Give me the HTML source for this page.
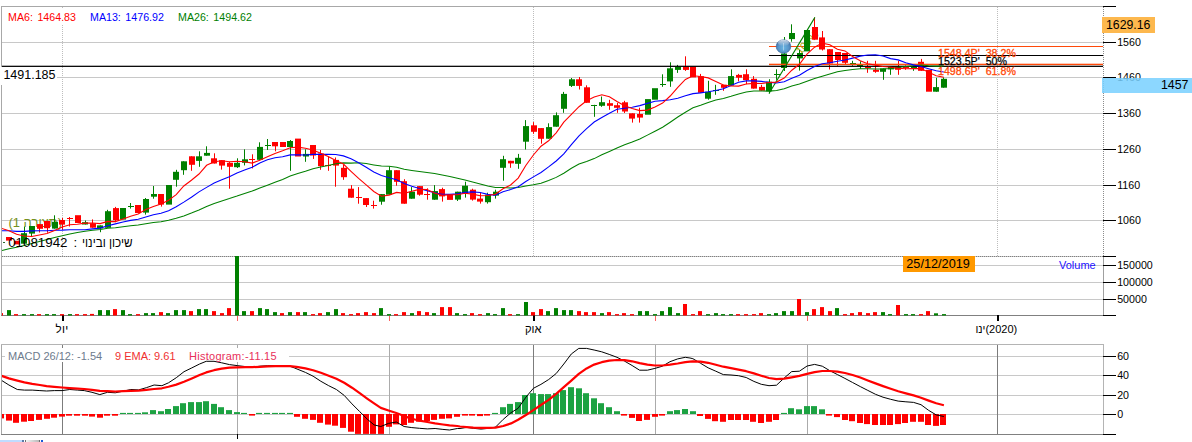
<!DOCTYPE html>
<html><head><meta charset="utf-8"><title>chart</title>
<style>
html,body{margin:0;padding:0;background:#fff;}
body{width:1192px;height:442px;position:relative;overflow:hidden;font-family:"Liberation Sans",sans-serif;}
.t{position:absolute;white-space:nowrap;line-height:1;}
.ax{font-size:10.67px;color:#000;left:1117.2px;}
</style></head><body>
<svg width="1192" height="442" viewBox="0 0 1192 442" style="position:absolute;left:0;top:0">
<defs><clipPath id="cm"><rect x="2" y="7" width="1101" height="249"/></clipPath><clipPath id="cv"><rect x="2" y="256" width="1101" height="60"/></clipPath><clipPath id="cd"><rect x="2" y="345" width="1101" height="89"/></clipPath><radialGradient id="ball" cx="0.5" cy="0.6" r="0.55"><stop offset="0" stop-color="#6bb6e2"/><stop offset="0.6" stop-color="#5a98cb"/><stop offset="1" stop-color="#4675aa"/></radialGradient><linearGradient id="gloss" x1="0" y1="0" x2="0" y2="1"><stop offset="0" stop-color="#ffffff" stop-opacity="0.75"/><stop offset="1" stop-color="#ffffff" stop-opacity="0"/></linearGradient></defs>
<g shape-rendering="crispEdges">
<rect x="2" y="42" width="1101" height="1" fill="#c8c8c8"/>
<rect x="2" y="77" width="1101" height="1" fill="#c8c8c8"/>
<rect x="2" y="113" width="1101" height="1" fill="#c8c8c8"/>
<rect x="2" y="149" width="1101" height="1" fill="#c8c8c8"/>
<rect x="2" y="185" width="1101" height="1" fill="#c8c8c8"/>
<rect x="2" y="220" width="1101" height="1" fill="#c8c8c8"/>
<rect x="1" y="6" width="1103" height="1" fill="#a8a8a8"/>
<rect x="1" y="6" width="1" height="310" fill="#a8a8a8"/>
<rect x="1" y="344" width="1" height="91" fill="#a8a8a8"/>
<line x1="62.5" y1="7" x2="62.5" y2="256" stroke="#bdbdbd" stroke-width="1" stroke-dasharray="1,1"/>
<line x1="533.5" y1="7" x2="533.5" y2="256" stroke="#bdbdbd" stroke-width="1" stroke-dasharray="1,1"/>
<line x1="997.5" y1="7" x2="997.5" y2="256" stroke="#bdbdbd" stroke-width="1" stroke-dasharray="1,1"/>
<line x1="1103.5" y1="7" x2="1103.5" y2="256" stroke="#8c8c8c" stroke-width="1" stroke-dasharray="1,1"/>
<rect x="1103" y="256" width="1" height="60" fill="#a0a0a0"/>
<rect x="6" y="9" width="250" height="15" fill="#fff"/>
<rect x="2" y="265" width="1101" height="1" fill="#c8c8c8"/>
<rect x="2" y="282" width="1101" height="1" fill="#c8c8c8"/>
<rect x="2" y="299" width="1101" height="1" fill="#c8c8c8"/>
<rect x="2" y="256" width="1101" height="1" fill="#c8c8c8"/>
<line x1="2" y1="256.5" x2="1103" y2="256.5" stroke="#808080" stroke-width="1" stroke-dasharray="1,1"/>
<rect x="1" y="315" width="1103" height="1" fill="#808080"/>
<rect x="1" y="344" width="1103" height="1" fill="#b4b4b4"/>
<rect x="1" y="434" width="1103" height="1" fill="#808080"/>
<rect x="1103" y="344" width="1" height="91" fill="#b4b4b4"/>
<rect x="2" y="356" width="1101" height="1" fill="#c8c8c8"/>
<rect x="2" y="375" width="1101" height="1" fill="#c8c8c8"/>
<rect x="2" y="395" width="1101" height="1" fill="#c8c8c8"/>
<rect x="2" y="414" width="1101" height="1" fill="#c8c8c8"/>
<rect x="62" y="345" width="1" height="89" fill="#7c7c7c"/>
<rect x="237" y="345" width="1" height="89" fill="#ababab"/>
<rect x="389" y="345" width="1" height="89" fill="#ababab"/>
<rect x="533" y="345" width="1" height="89" fill="#7c7c7c"/>
<rect x="655" y="345" width="1" height="89" fill="#ababab"/>
<rect x="807" y="345" width="1" height="89" fill="#ababab"/>
<rect x="997" y="345" width="1" height="89" fill="#7c7c7c"/>
<rect x="5" y="348" width="284" height="14" fill="#fff"/>
<rect x="1103" y="6" width="13" height="1" fill="#000"/>
<rect x="1103" y="42" width="13" height="1" fill="#000"/>
<rect x="1103" y="77" width="13" height="1" fill="#000"/>
<rect x="1103" y="113" width="13" height="1" fill="#000"/>
<rect x="1103" y="149" width="13" height="1" fill="#000"/>
<rect x="1103" y="185" width="13" height="1" fill="#000"/>
<rect x="1103" y="220" width="13" height="1" fill="#000"/>
<rect x="1103" y="256" width="13" height="1" fill="#000"/>
<rect x="1103" y="265" width="13" height="1" fill="#000"/>
<rect x="1103" y="282" width="13" height="1" fill="#000"/>
<rect x="1103" y="299" width="13" height="1" fill="#000"/>
<rect x="1103" y="315" width="13" height="1" fill="#000"/>
<rect x="1103" y="356" width="13" height="1" fill="#000"/>
<rect x="1103" y="375" width="13" height="1" fill="#000"/>
<rect x="1103" y="395" width="13" height="1" fill="#000"/>
<rect x="1103" y="414" width="13" height="1" fill="#000"/>
<rect x="1103" y="434" width="13" height="1" fill="#000"/>
<rect x="61.5" y="315" width="2" height="6" fill="#000"/>
<rect x="532.5" y="315" width="2" height="6" fill="#000"/>
<rect x="996.5" y="315" width="2" height="6" fill="#000"/>
<rect x="237" y="316" width="1" height="5" fill="#ff6060"/>
<rect x="389" y="316" width="1" height="5" fill="#ff6060"/>
<rect x="655" y="316" width="1" height="5" fill="#ff6060"/>
<rect x="807" y="316" width="1" height="5" fill="#ff6060"/>
<rect x="236.6" y="434" width="1.4" height="5" fill="#000"/>
</g>
<g clip-path="url(#cv)">
<rect x="-1" y="313.1" width="4" height="2.4" fill="#FF0000"/>
<rect x="7" y="310.1" width="4" height="5.4" fill="#008000"/>
<rect x="14" y="314.1" width="4" height="1.4" fill="#FF0000"/>
<rect x="22" y="314.1" width="4" height="1.4" fill="#008000"/>
<rect x="30" y="314.1" width="4" height="1.4" fill="#008000"/>
<rect x="37" y="314.1" width="4" height="1.4" fill="#FF0000"/>
<rect x="45" y="314.1" width="4" height="1.4" fill="#008000"/>
<rect x="52" y="314.1" width="4" height="1.4" fill="#008000"/>
<rect x="60" y="314.1" width="4" height="1.4" fill="#FF0000"/>
<rect x="68" y="314.1" width="4" height="1.4" fill="#008000"/>
<rect x="75" y="314.1" width="4" height="1.4" fill="#FF0000"/>
<rect x="83" y="314.1" width="4" height="1.4" fill="#FF0000"/>
<rect x="90" y="313.9" width="4" height="1.6" fill="#FF0000"/>
<rect x="98" y="310.1" width="4" height="5.4" fill="#008000"/>
<rect x="106" y="310.1" width="4" height="5.4" fill="#008000"/>
<rect x="113" y="309.1" width="4" height="6.4" fill="#FF0000"/>
<rect x="121" y="310.1" width="4" height="5.4" fill="#008000"/>
<rect x="128" y="314.1" width="4" height="1.4" fill="#008000"/>
<rect x="136" y="314.1" width="4" height="1.4" fill="#FF0000"/>
<rect x="144" y="313.1" width="4" height="2.4" fill="#008000"/>
<rect x="151" y="313.1" width="4" height="2.4" fill="#008000"/>
<rect x="159" y="312.1" width="4" height="3.4" fill="#FF0000"/>
<rect x="166" y="313.1" width="4" height="2.4" fill="#008000"/>
<rect x="174" y="310.1" width="4" height="5.4" fill="#008000"/>
<rect x="182" y="310.1" width="4" height="5.4" fill="#008000"/>
<rect x="189" y="311.1" width="4" height="4.4" fill="#FF0000"/>
<rect x="197" y="309.1" width="4" height="6.4" fill="#008000"/>
<rect x="204" y="309.1" width="4" height="6.4" fill="#008000"/>
<rect x="212" y="311.1" width="4" height="4.4" fill="#FF0000"/>
<rect x="220" y="313.1" width="4" height="2.4" fill="#FF0000"/>
<rect x="227" y="308.1" width="4" height="7.4" fill="#FF0000"/>
<rect x="235" y="256.0" width="4" height="59.5" fill="#008000"/>
<rect x="242" y="311.1" width="4" height="4.4" fill="#008000"/>
<rect x="250" y="311.1" width="4" height="4.4" fill="#FF0000"/>
<rect x="258" y="308.1" width="4" height="7.4" fill="#008000"/>
<rect x="265" y="309.1" width="4" height="6.4" fill="#008000"/>
<rect x="273" y="312.1" width="4" height="3.4" fill="#008000"/>
<rect x="280" y="313.1" width="4" height="2.4" fill="#FF0000"/>
<rect x="288" y="312.1" width="4" height="3.4" fill="#008000"/>
<rect x="296" y="312.1" width="4" height="3.4" fill="#FF0000"/>
<rect x="303" y="312.1" width="4" height="3.4" fill="#008000"/>
<rect x="311" y="314.1" width="4" height="1.4" fill="#FF0000"/>
<rect x="318" y="313.1" width="4" height="2.4" fill="#FF0000"/>
<rect x="326" y="312.1" width="4" height="3.4" fill="#008000"/>
<rect x="334" y="309.1" width="4" height="6.4" fill="#008000"/>
<rect x="341" y="313.1" width="4" height="2.4" fill="#FF0000"/>
<rect x="349" y="314.1" width="4" height="1.4" fill="#FF0000"/>
<rect x="356" y="313.1" width="4" height="2.4" fill="#FF0000"/>
<rect x="364" y="312.1" width="4" height="3.4" fill="#FF0000"/>
<rect x="372" y="313.1" width="4" height="2.4" fill="#FF0000"/>
<rect x="379" y="308.1" width="4" height="7.4" fill="#008000"/>
<rect x="387" y="314.1" width="4" height="1.4" fill="#008000"/>
<rect x="394" y="314.1" width="4" height="1.4" fill="#FF0000"/>
<rect x="402" y="312.1" width="4" height="3.4" fill="#FF0000"/>
<rect x="410" y="313.1" width="4" height="2.4" fill="#008000"/>
<rect x="417" y="311.1" width="4" height="4.4" fill="#FF0000"/>
<rect x="425" y="312.1" width="4" height="3.4" fill="#FF0000"/>
<rect x="432" y="313.1" width="4" height="2.4" fill="#008000"/>
<rect x="440" y="307.1" width="4" height="8.4" fill="#FF0000"/>
<rect x="448" y="307.1" width="4" height="8.4" fill="#FF0000"/>
<rect x="455" y="313.1" width="4" height="2.4" fill="#008000"/>
<rect x="463" y="314.1" width="4" height="1.4" fill="#008000"/>
<rect x="470" y="313.1" width="4" height="2.4" fill="#FF0000"/>
<rect x="478" y="314.1" width="4" height="1.4" fill="#FF0000"/>
<rect x="486" y="313.1" width="4" height="2.4" fill="#008000"/>
<rect x="493" y="314.1" width="4" height="1.4" fill="#008000"/>
<rect x="501" y="308.1" width="4" height="7.4" fill="#008000"/>
<rect x="508" y="314.1" width="4" height="1.4" fill="#FF0000"/>
<rect x="516" y="314.1" width="4" height="1.4" fill="#008000"/>
<rect x="524" y="302.0" width="4" height="13.5" fill="#008000"/>
<rect x="531" y="312.1" width="4" height="3.4" fill="#FF0000"/>
<rect x="539" y="309.1" width="4" height="6.4" fill="#FF0000"/>
<rect x="546" y="311.1" width="4" height="4.4" fill="#008000"/>
<rect x="554" y="308.1" width="4" height="7.4" fill="#008000"/>
<rect x="562" y="310.1" width="4" height="5.4" fill="#008000"/>
<rect x="569" y="310.1" width="4" height="5.4" fill="#008000"/>
<rect x="577" y="311.1" width="4" height="4.4" fill="#FF0000"/>
<rect x="584" y="312.1" width="4" height="3.4" fill="#FF0000"/>
<rect x="592" y="312.1" width="4" height="3.4" fill="#FF0000"/>
<rect x="600" y="313.1" width="4" height="2.4" fill="#008000"/>
<rect x="607" y="312.1" width="4" height="3.4" fill="#FF0000"/>
<rect x="615" y="314.1" width="4" height="1.4" fill="#FF0000"/>
<rect x="622" y="313.1" width="4" height="2.4" fill="#FF0000"/>
<rect x="630" y="314.1" width="4" height="1.4" fill="#FF0000"/>
<rect x="638" y="311.1" width="4" height="4.4" fill="#008000"/>
<rect x="645" y="311.1" width="4" height="4.4" fill="#008000"/>
<rect x="653" y="314.1" width="4" height="1.4" fill="#008000"/>
<rect x="660" y="311.1" width="4" height="4.4" fill="#008000"/>
<rect x="668" y="307.1" width="4" height="8.4" fill="#008000"/>
<rect x="676" y="313.1" width="4" height="2.4" fill="#008000"/>
<rect x="683" y="304.0" width="4" height="11.5" fill="#FF0000"/>
<rect x="691" y="314.1" width="4" height="1.4" fill="#FF0000"/>
<rect x="698" y="311.1" width="4" height="4.4" fill="#FF0000"/>
<rect x="706" y="314.1" width="4" height="1.4" fill="#008000"/>
<rect x="714" y="313.1" width="4" height="2.4" fill="#008000"/>
<rect x="721" y="314.1" width="4" height="1.4" fill="#008000"/>
<rect x="729" y="314.1" width="4" height="1.4" fill="#008000"/>
<rect x="736" y="314.1" width="4" height="1.4" fill="#FF0000"/>
<rect x="744" y="314.1" width="4" height="1.4" fill="#FF0000"/>
<rect x="752" y="314.1" width="4" height="1.4" fill="#FF0000"/>
<rect x="759" y="313.1" width="4" height="2.4" fill="#FF0000"/>
<rect x="767" y="314.1" width="4" height="1.4" fill="#008000"/>
<rect x="774" y="313.1" width="4" height="2.4" fill="#008000"/>
<rect x="782" y="311.1" width="4" height="4.4" fill="#008000"/>
<rect x="790" y="311.1" width="4" height="4.4" fill="#008000"/>
<rect x="797" y="299.0" width="4" height="16.5" fill="#FF0000"/>
<rect x="805" y="312.1" width="4" height="3.4" fill="#008000"/>
<rect x="812" y="309.1" width="4" height="6.4" fill="#FF0000"/>
<rect x="820" y="307.1" width="4" height="8.4" fill="#FF0000"/>
<rect x="828" y="311.1" width="4" height="4.4" fill="#FF0000"/>
<rect x="835" y="308.1" width="4" height="7.4" fill="#008000"/>
<rect x="843" y="314.1" width="4" height="1.4" fill="#FF0000"/>
<rect x="850" y="313.1" width="4" height="2.4" fill="#FF0000"/>
<rect x="858" y="312.1" width="4" height="3.4" fill="#FF0000"/>
<rect x="866" y="313.1" width="4" height="2.4" fill="#FF0000"/>
<rect x="873" y="312.1" width="4" height="3.4" fill="#FF0000"/>
<rect x="881" y="312.1" width="4" height="3.4" fill="#008000"/>
<rect x="888" y="314.1" width="4" height="1.4" fill="#008000"/>
<rect x="896" y="305.0" width="4" height="10.5" fill="#FF0000"/>
<rect x="904" y="314.1" width="4" height="1.4" fill="#008000"/>
<rect x="911" y="314.1" width="4" height="1.4" fill="#008000"/>
<rect x="919" y="314.1" width="4" height="1.4" fill="#FF0000"/>
<rect x="926" y="311.1" width="4" height="4.4" fill="#FF0000"/>
<rect x="934" y="313.3" width="4" height="2.2" fill="#008000"/>
<rect x="942" y="314.1" width="4" height="1.4" fill="#008000"/>
</g>
<g clip-path="url(#cm)">
<rect x="769" y="46" width="334" height="1" fill="#ff4a0a" shape-rendering="crispEdges"/>
<text x="0" y="0" transform="translate(800.5,55) rotate(-47)" font-family="Liberation Sans, sans-serif" font-size="10.67" fill="#a8a000">100%</text>
<text x="8.4" y="227.3" font-family="Liberation Sans, sans-serif" font-size="13" fill="#759020">(תצורה 1)</text>
<g>
<rect x="6" y="237.0" width="6" height="3.6" fill="#FF0000"/>
<rect x="14" y="240.8" width="6" height="3.6" fill="#FF0000"/>
<rect x="24" y="226.6" width="1" height="17.1" fill="#008000"/>
<rect x="21" y="233.2" width="6" height="10.5" fill="#008000"/>
<rect x="31" y="226.0" width="1" height="10.8" fill="#008000"/>
<rect x="29" y="226.0" width="6" height="7.6" fill="#008000"/>
<rect x="39" y="224.1" width="1" height="8.4" fill="#FF0000"/>
<rect x="37" y="224.1" width="6" height="4.7" fill="#FF0000"/>
<rect x="47" y="221.0" width="1" height="11.7" fill="#FF0000"/>
<rect x="44" y="221.0" width="6" height="7.2" fill="#FF0000"/>
<rect x="54" y="215.3" width="1" height="13.3" fill="#008000"/>
<rect x="52" y="221.8" width="6" height="6.8" fill="#008000"/>
<rect x="62" y="218.0" width="1" height="11.8" fill="#FF0000"/>
<rect x="59" y="220.0" width="6" height="4.6" fill="#FF0000"/>
<rect x="69" y="217.0" width="1" height="9.5" fill="#FF0000"/>
<rect x="67" y="218" width="6" height="1" fill="#FF0000"/>
<rect x="75" y="215.2" width="6" height="7.8" fill="#FF0000"/>
<rect x="85" y="220.5" width="1" height="4.0" fill="#008000"/>
<rect x="82" y="222.2" width="6" height="2.3" fill="#008000"/>
<rect x="92" y="219.4" width="1" height="8.3" fill="#FF0000"/>
<rect x="90" y="223.3" width="6" height="4.4" fill="#FF0000"/>
<rect x="100" y="225.4" width="1" height="6.8" fill="#008000"/>
<rect x="97" y="225.4" width="6" height="3.0" fill="#008000"/>
<rect x="107" y="209.8" width="1" height="18.0" fill="#008000"/>
<rect x="105" y="211.2" width="6" height="16.6" fill="#008000"/>
<rect x="115" y="206.9" width="1" height="15.3" fill="#FF0000"/>
<rect x="113" y="208.1" width="6" height="12.1" fill="#FF0000"/>
<rect x="120" y="208.0" width="6" height="11.6" fill="#008000"/>
<rect x="130" y="203.0" width="1" height="5.6" fill="#008000"/>
<rect x="128" y="206" width="6" height="1" fill="#008000"/>
<rect x="135" y="205.0" width="6" height="8.0" fill="#FF0000"/>
<rect x="145" y="198.0" width="1" height="16.6" fill="#008000"/>
<rect x="143" y="199.0" width="6" height="13.6" fill="#008000"/>
<rect x="153" y="186.0" width="1" height="12.7" fill="#008000"/>
<rect x="151" y="194.0" width="6" height="2.7" fill="#008000"/>
<rect x="161" y="194.0" width="1" height="12.6" fill="#FF0000"/>
<rect x="158" y="194.0" width="6" height="10.6" fill="#FF0000"/>
<rect x="166" y="185.0" width="6" height="19.6" fill="#008000"/>
<rect x="176" y="169.8" width="1" height="16.9" fill="#008000"/>
<rect x="173" y="171.8" width="6" height="8.0" fill="#008000"/>
<rect x="183" y="161.3" width="1" height="13.5" fill="#008000"/>
<rect x="181" y="161.3" width="6" height="8.9" fill="#008000"/>
<rect x="191" y="156.3" width="1" height="14.5" fill="#FF0000"/>
<rect x="189" y="156.3" width="6" height="8.5" fill="#FF0000"/>
<rect x="199" y="151.3" width="1" height="15.5" fill="#008000"/>
<rect x="196" y="156.3" width="6" height="4.6" fill="#008000"/>
<rect x="206" y="146.3" width="1" height="9.4" fill="#008000"/>
<rect x="204" y="152.9" width="6" height="2.8" fill="#008000"/>
<rect x="214" y="153.3" width="1" height="10.2" fill="#FF0000"/>
<rect x="211" y="158.3" width="6" height="5.2" fill="#FF0000"/>
<rect x="221" y="160.2" width="1" height="9.4" fill="#FF0000"/>
<rect x="219" y="160.2" width="6" height="5.4" fill="#FF0000"/>
<rect x="229" y="161.8" width="1" height="26.9" fill="#FF0000"/>
<rect x="227" y="162.8" width="6" height="4.0" fill="#FF0000"/>
<rect x="237" y="158.3" width="1" height="9.7" fill="#008000"/>
<rect x="234" y="162.8" width="6" height="4.4" fill="#008000"/>
<rect x="244" y="149.3" width="1" height="16.1" fill="#008000"/>
<rect x="242" y="159.3" width="6" height="3.5" fill="#008000"/>
<rect x="252" y="154.3" width="1" height="14.1" fill="#FF0000"/>
<rect x="249" y="159" width="6" height="1" fill="#FF0000"/>
<rect x="259" y="142.3" width="1" height="17.5" fill="#008000"/>
<rect x="257" y="146.9" width="6" height="12.9" fill="#008000"/>
<rect x="267" y="139.0" width="1" height="11.0" fill="#008000"/>
<rect x="265" y="145" width="6" height="1" fill="#008000"/>
<rect x="275" y="142.0" width="1" height="9.3" fill="#FF0000"/>
<rect x="272" y="142.0" width="6" height="4.3" fill="#FF0000"/>
<rect x="280" y="142.0" width="6" height="5.0" fill="#FF0000"/>
<rect x="290" y="140.0" width="1" height="30.8" fill="#008000"/>
<rect x="287" y="141.0" width="6" height="6.0" fill="#008000"/>
<rect x="295" y="138.6" width="6" height="17.9" fill="#FF0000"/>
<rect x="305" y="149.3" width="1" height="12.5" fill="#008000"/>
<rect x="303" y="153.9" width="6" height="2.6" fill="#008000"/>
<rect x="313" y="145.0" width="1" height="13.9" fill="#FF0000"/>
<rect x="310" y="145.0" width="6" height="10.5" fill="#FF0000"/>
<rect x="320" y="150.0" width="1" height="19.8" fill="#FF0000"/>
<rect x="318" y="153.5" width="6" height="12.7" fill="#FF0000"/>
<rect x="328" y="156.9" width="1" height="13.9" fill="#FF0000"/>
<rect x="325" y="165" width="6" height="1" fill="#FF0000"/>
<rect x="335" y="157.5" width="1" height="29.2" fill="#FF0000"/>
<rect x="333" y="159.9" width="6" height="5.7" fill="#FF0000"/>
<rect x="343" y="164.9" width="1" height="14.9" fill="#FF0000"/>
<rect x="341" y="167.8" width="6" height="9.4" fill="#FF0000"/>
<rect x="351" y="185.1" width="1" height="12.6" fill="#FF0000"/>
<rect x="348" y="188.7" width="6" height="9.0" fill="#FF0000"/>
<rect x="358" y="187.1" width="1" height="16.6" fill="#FF0000"/>
<rect x="356" y="197" width="6" height="1" fill="#FF0000"/>
<rect x="366" y="198.1" width="1" height="8.9" fill="#FF0000"/>
<rect x="363" y="198.1" width="6" height="6.9" fill="#FF0000"/>
<rect x="373" y="200.7" width="1" height="7.9" fill="#FF0000"/>
<rect x="371" y="205" width="6" height="1" fill="#FF0000"/>
<rect x="381" y="194.1" width="1" height="10.6" fill="#008000"/>
<rect x="379" y="194.1" width="6" height="7.6" fill="#008000"/>
<rect x="389" y="166.4" width="1" height="28.3" fill="#008000"/>
<rect x="386" y="170.2" width="6" height="24.5" fill="#008000"/>
<rect x="396" y="170.2" width="1" height="15.5" fill="#FF0000"/>
<rect x="394" y="170.2" width="6" height="11.6" fill="#FF0000"/>
<rect x="404" y="179.2" width="1" height="24.5" fill="#FF0000"/>
<rect x="401" y="181.2" width="6" height="22.5" fill="#FF0000"/>
<rect x="411" y="187.1" width="1" height="11.6" fill="#008000"/>
<rect x="409" y="191.7" width="6" height="7.0" fill="#008000"/>
<rect x="419" y="186.1" width="1" height="9.6" fill="#FF0000"/>
<rect x="417" y="186.1" width="6" height="8.6" fill="#FF0000"/>
<rect x="427" y="188.3" width="1" height="11.4" fill="#FF0000"/>
<rect x="424" y="194" width="6" height="1" fill="#FF0000"/>
<rect x="434" y="185.1" width="1" height="14.6" fill="#008000"/>
<rect x="432" y="191.1" width="6" height="8.6" fill="#008000"/>
<rect x="442" y="187.7" width="1" height="13.9" fill="#FF0000"/>
<rect x="439" y="189.1" width="6" height="7.3" fill="#FF0000"/>
<rect x="447" y="194.7" width="6" height="5.2" fill="#FF0000"/>
<rect x="457" y="191.7" width="1" height="9.3" fill="#008000"/>
<rect x="455" y="191.7" width="6" height="7.9" fill="#008000"/>
<rect x="465" y="181.7" width="1" height="15.9" fill="#008000"/>
<rect x="462" y="185.7" width="6" height="8.0" fill="#008000"/>
<rect x="472" y="188.7" width="1" height="11.9" fill="#FF0000"/>
<rect x="470" y="189.7" width="6" height="9.9" fill="#FF0000"/>
<rect x="480" y="192.7" width="1" height="10.9" fill="#FF0000"/>
<rect x="477" y="198.6" width="6" height="3.0" fill="#FF0000"/>
<rect x="487" y="192.7" width="1" height="10.9" fill="#008000"/>
<rect x="485" y="194.7" width="6" height="7.5" fill="#008000"/>
<rect x="495" y="189.7" width="1" height="8.9" fill="#008000"/>
<rect x="493" y="191.7" width="6" height="3.9" fill="#008000"/>
<rect x="503" y="155.8" width="1" height="24.9" fill="#008000"/>
<rect x="500" y="159.2" width="6" height="8.6" fill="#008000"/>
<rect x="510" y="160.8" width="1" height="7.0" fill="#FF0000"/>
<rect x="508" y="160.8" width="6" height="2.6" fill="#FF0000"/>
<rect x="518" y="153.9" width="1" height="14.9" fill="#008000"/>
<rect x="515" y="157.8" width="6" height="6.0" fill="#008000"/>
<rect x="525" y="120.1" width="1" height="29.4" fill="#008000"/>
<rect x="523" y="126.1" width="6" height="15.6" fill="#008000"/>
<rect x="533" y="122.1" width="1" height="11.7" fill="#FF0000"/>
<rect x="531" y="125.3" width="6" height="6.5" fill="#FF0000"/>
<rect x="541" y="128.1" width="1" height="15.6" fill="#FF0000"/>
<rect x="538" y="128.1" width="6" height="10.7" fill="#FF0000"/>
<rect x="548" y="123.3" width="1" height="15.4" fill="#008000"/>
<rect x="546" y="127.1" width="6" height="11.6" fill="#008000"/>
<rect x="556" y="112.4" width="1" height="14.3" fill="#008000"/>
<rect x="553" y="115.2" width="6" height="11.5" fill="#008000"/>
<rect x="563" y="91.9" width="1" height="20.9" fill="#008000"/>
<rect x="561" y="93.9" width="6" height="14.9" fill="#008000"/>
<rect x="571" y="78.0" width="1" height="9.0" fill="#008000"/>
<rect x="569" y="79.3" width="6" height="6.6" fill="#008000"/>
<rect x="579" y="77.0" width="1" height="12.5" fill="#FF0000"/>
<rect x="576" y="79.3" width="6" height="6.6" fill="#FF0000"/>
<rect x="586" y="85.3" width="1" height="17.5" fill="#FF0000"/>
<rect x="584" y="87.3" width="6" height="15.5" fill="#FF0000"/>
<rect x="594" y="104.8" width="1" height="12.0" fill="#008000"/>
<rect x="591" y="105" width="6" height="1" fill="#008000"/>
<rect x="601" y="96.5" width="1" height="10.3" fill="#008000"/>
<rect x="599" y="102.2" width="6" height="3.6" fill="#008000"/>
<rect x="609" y="99.8" width="1" height="10.0" fill="#FF0000"/>
<rect x="607" y="103.2" width="6" height="2.6" fill="#FF0000"/>
<rect x="617" y="102.8" width="1" height="10.0" fill="#FF0000"/>
<rect x="614" y="105.2" width="6" height="2.6" fill="#FF0000"/>
<rect x="624" y="100.8" width="1" height="12.2" fill="#FF0000"/>
<rect x="622" y="102.3" width="6" height="9.2" fill="#FF0000"/>
<rect x="632" y="113.3" width="1" height="9.3" fill="#FF0000"/>
<rect x="629" y="113.3" width="6" height="5.3" fill="#FF0000"/>
<rect x="639" y="107.7" width="1" height="14.9" fill="#FF0000"/>
<rect x="637" y="114.0" width="6" height="3.6" fill="#FF0000"/>
<rect x="645" y="99.1" width="6" height="15.6" fill="#008000"/>
<rect x="652" y="88.2" width="6" height="11.5" fill="#008000"/>
<rect x="662" y="74.3" width="1" height="12.5" fill="#008000"/>
<rect x="660" y="84" width="6" height="1" fill="#008000"/>
<rect x="670" y="62.3" width="1" height="24.5" fill="#008000"/>
<rect x="667" y="68.3" width="6" height="13.1" fill="#008000"/>
<rect x="677" y="64.9" width="1" height="8.0" fill="#008000"/>
<rect x="675" y="66.9" width="6" height="3.0" fill="#008000"/>
<rect x="685" y="56.3" width="1" height="14.6" fill="#FF0000"/>
<rect x="683" y="66.5" width="6" height="3.4" fill="#FF0000"/>
<rect x="690" y="66.5" width="6" height="10.9" fill="#FF0000"/>
<rect x="700" y="73.9" width="1" height="18.9" fill="#FF0000"/>
<rect x="698" y="76.2" width="6" height="16.6" fill="#FF0000"/>
<rect x="708" y="80.8" width="1" height="18.9" fill="#008000"/>
<rect x="705" y="91.8" width="6" height="6.9" fill="#008000"/>
<rect x="715" y="84.8" width="1" height="10.0" fill="#008000"/>
<rect x="713" y="90" width="6" height="1" fill="#008000"/>
<rect x="723" y="84.8" width="1" height="6.0" fill="#FF0000"/>
<rect x="721" y="84.8" width="6" height="3.0" fill="#FF0000"/>
<rect x="731" y="69.3" width="1" height="16.3" fill="#008000"/>
<rect x="728" y="76.1" width="6" height="9.5" fill="#008000"/>
<rect x="738" y="73.9" width="1" height="7.4" fill="#FF0000"/>
<rect x="736" y="74.9" width="6" height="2.8" fill="#FF0000"/>
<rect x="746" y="69.3" width="1" height="14.9" fill="#FF0000"/>
<rect x="743" y="74.2" width="6" height="5.9" fill="#FF0000"/>
<rect x="753" y="76.1" width="1" height="12.5" fill="#FF0000"/>
<rect x="751" y="78.8" width="6" height="9.8" fill="#FF0000"/>
<rect x="761" y="84.8" width="1" height="5.9" fill="#FF0000"/>
<rect x="759" y="86.9" width="6" height="3.8" fill="#FF0000"/>
<rect x="769" y="79.2" width="1" height="14.3" fill="#008000"/>
<rect x="766" y="81.7" width="6" height="9.6" fill="#008000"/>
<rect x="776" y="69.3" width="1" height="10.5" fill="#008000"/>
<rect x="774" y="74" width="6" height="1" fill="#008000"/>
<rect x="784" y="37.0" width="1" height="34.0" fill="#008000"/>
<rect x="781" y="53.5" width="6" height="14.5" fill="#008000"/>
<rect x="791" y="24.3" width="1" height="17.4" fill="#008000"/>
<rect x="789" y="33.0" width="6" height="6.1" fill="#008000"/>
<rect x="799" y="50.0" width="1" height="20.6" fill="#008000"/>
<rect x="797" y="53.0" width="6" height="5.4" fill="#008000"/>
<rect x="804" y="30.0" width="6" height="21.4" fill="#008000"/>
<rect x="814" y="17.5" width="1" height="22.2" fill="#FF0000"/>
<rect x="812" y="27.0" width="6" height="12.7" fill="#FF0000"/>
<rect x="822" y="31.0" width="1" height="19.5" fill="#FF0000"/>
<rect x="819" y="37.4" width="6" height="12.1" fill="#FF0000"/>
<rect x="829" y="49.2" width="1" height="20.3" fill="#FF0000"/>
<rect x="827" y="49.2" width="6" height="14.3" fill="#FF0000"/>
<rect x="837" y="52.0" width="1" height="13.8" fill="#FF0000"/>
<rect x="835" y="52.0" width="6" height="8.0" fill="#FF0000"/>
<rect x="845" y="53.0" width="1" height="11.0" fill="#FF0000"/>
<rect x="842" y="53.0" width="6" height="9.8" fill="#FF0000"/>
<rect x="852" y="60.8" width="1" height="5.0" fill="#008000"/>
<rect x="850" y="63" width="6" height="1" fill="#008000"/>
<rect x="860" y="61.3" width="1" height="7.5" fill="#008000"/>
<rect x="857" y="65" width="6" height="1" fill="#008000"/>
<rect x="867" y="60.8" width="1" height="12.0" fill="#FF0000"/>
<rect x="865" y="67" width="6" height="1" fill="#FF0000"/>
<rect x="875" y="60.8" width="1" height="12.0" fill="#FF0000"/>
<rect x="873" y="69.8" width="6" height="2.0" fill="#FF0000"/>
<rect x="883" y="68.4" width="1" height="11.4" fill="#008000"/>
<rect x="880" y="68.4" width="6" height="3.4" fill="#008000"/>
<rect x="890" y="66.8" width="1" height="8.0" fill="#008000"/>
<rect x="888" y="66.8" width="6" height="2.6" fill="#008000"/>
<rect x="898" y="60.8" width="1" height="14.0" fill="#FF0000"/>
<rect x="895" y="66.8" width="6" height="3.0" fill="#FF0000"/>
<rect x="905" y="65.4" width="1" height="4.4" fill="#FF0000"/>
<rect x="903" y="67" width="6" height="1" fill="#FF0000"/>
<rect x="913" y="65.8" width="1" height="5.0" fill="#008000"/>
<rect x="911" y="67" width="6" height="1" fill="#008000"/>
<rect x="921" y="58.9" width="1" height="11.9" fill="#FF0000"/>
<rect x="918" y="61.8" width="6" height="9.0" fill="#FF0000"/>
<rect x="926" y="69.8" width="6" height="21.9" fill="#FF0000"/>
<rect x="936" y="77.8" width="1" height="13.9" fill="#008000"/>
<rect x="933" y="87.1" width="6" height="4.6" fill="#008000"/>
<rect x="943" y="77.4" width="1" height="10.3" fill="#008000"/>
<rect x="941" y="78.8" width="6" height="8.9" fill="#008000"/>
</g>
<rect x="769" y="63.7" width="334" height="1.4" fill="#ff4a0a"/>
<rect x="769" y="55" width="334" height="1" fill="#000" shape-rendering="crispEdges"/>
<rect x="0" y="65.7" width="1103" height="1.25" fill="#000"/>
<line x1="769" y1="93.5" x2="814.9" y2="17.4" stroke="#008000" stroke-width="1.1"/>
<polyline fill="none" stroke="#008000" stroke-width="1.05" points="1.4,250.7 9.0,248.8 16.6,247.3 24.2,245.4 31.8,243.4 39.4,241.5 47.0,239.6 54.6,237.6 62.2,235.8 69.8,234.0 77.4,232.5 85.0,231.2 92.6,230.3 100.2,229.4 107.8,228.3 115.4,227.7 123.0,226.7 130.6,225.7 138.2,225.0 145.8,223.8 153.4,222.5 161.0,221.7 168.6,220.2 176.2,218.3 183.8,215.9 191.4,213.1 199.0,210.0 206.6,206.6 214.2,203.5 221.8,200.9 229.4,198.6 237.0,196.1 244.6,193.4 252.2,191.1 259.8,188.1 267.4,185.2 275.0,182.3 282.6,179.4 290.2,176.1 297.8,173.4 305.4,171.2 313.0,168.7 320.6,167.1 328.2,165.6 335.8,163.8 343.4,162.9 351.0,163.1 358.6,162.8 366.2,163.6 373.8,164.9 381.4,166.1 389.0,166.3 396.6,167.3 404.2,169.3 411.8,170.4 419.4,171.5 427.0,172.5 434.6,173.6 442.2,175.1 449.8,176.6 457.4,178.3 465.0,179.9 472.6,181.9 480.2,184.0 487.8,186.1 495.4,187.4 503.0,187.6 510.6,188.0 518.2,187.6 525.8,186.1 533.4,184.8 541.0,183.3 548.6,180.6 556.2,177.4 563.8,173.2 571.4,168.3 579.0,164.1 586.6,161.5 594.2,158.6 601.8,154.7 609.4,151.4 617.0,148.0 624.6,144.8 632.2,142.1 639.8,139.0 647.4,135.1 655.0,131.2 662.6,127.2 670.2,122.2 677.8,117.0 685.4,112.2 693.0,107.8 700.6,105.3 708.2,102.5 715.8,99.9 723.4,98.4 731.0,96.3 738.6,93.9 746.2,92.1 753.8,91.1 761.4,91.0 769.0,91.1 776.6,90.6 784.2,88.7 791.8,86.0 799.4,84.1 807.0,81.2 814.6,78.5 822.2,76.2 829.8,74.0 837.4,71.8 845.0,70.4 852.6,69.5 860.2,68.7 867.8,68.7 875.4,68.9 883.0,68.9 890.6,68.5 898.2,67.6 905.8,66.6 913.4,65.8 921.0,65.1 928.6,65.7 936.2,66.1 943.8,66.0"/>
<polyline fill="none" stroke="#0000FF" stroke-width="1.1" points="1.4,230.8 9.0,230.8 16.6,231.4 24.2,231.4 31.8,230.9 39.4,230.8 47.0,230.7 54.6,230.2 62.2,230.1 69.8,229.7 77.4,229.8 85.0,229.7 92.6,228.9 100.2,228.1 107.8,225.8 115.4,223.9 123.0,222.0 130.6,220.4 138.2,219.2 145.8,217.0 153.4,214.8 161.0,213.3 168.6,210.7 176.2,206.7 183.8,202.1 191.4,197.2 199.0,191.9 206.6,187.4 214.2,183.1 221.8,179.8 229.4,176.8 237.0,173.0 244.6,169.9 252.2,167.3 259.8,162.9 267.4,159.8 275.0,157.8 282.6,156.7 290.2,154.9 297.8,154.9 305.4,155.0 313.0,154.4 320.6,154.4 328.2,154.3 335.8,154.5 343.4,155.9 351.0,158.8 358.6,162.7 366.2,167.3 373.8,171.9 381.4,175.5 389.0,177.8 396.6,179.7 404.2,183.6 411.8,186.3 419.4,188.5 427.0,190.8 434.6,192.7 442.2,194.2 449.8,194.4 457.4,193.9 465.0,192.4 472.6,191.9 480.2,192.5 487.8,194.4 495.4,195.2 503.0,191.7 510.6,189.6 518.2,186.7 525.8,181.5 533.4,176.9 541.0,172.5 548.6,166.9 556.2,161.0 563.8,153.9 571.4,144.7 579.0,135.8 586.6,128.7 594.2,122.0 601.8,117.6 609.4,113.2 617.0,109.3 624.6,108.2 632.2,107.2 639.8,105.6 647.4,103.4 655.0,101.3 662.6,100.6 670.2,99.7 677.8,98.3 685.4,95.7 693.0,93.6 700.6,92.9 708.2,91.8 715.8,90.5 723.4,88.7 731.0,85.4 738.6,82.3 746.2,80.9 753.8,80.9 761.4,81.4 769.0,82.4 776.6,83.0 784.2,81.7 791.8,78.3 799.4,75.3 807.0,70.5 814.6,66.6 822.2,63.7 829.8,62.7 837.4,61.3 845.0,60.0 852.6,58.1 860.2,56.1 867.8,55.0 875.4,54.8 883.0,56.0 890.6,58.6 898.2,59.9 905.8,62.8 913.4,64.9 921.0,66.5 928.6,68.7 936.2,70.8 943.8,72.0"/>
<polyline fill="none" stroke="#FF0000" stroke-width="1.1" points="1.4,228.3 9.0,230.8 16.6,234.2 24.2,236.0 31.8,236.5 39.4,235.0 47.0,233.5 54.6,230.4 62.2,227.1 69.8,224.7 77.4,224.2 85.0,223.1 92.6,223.0 100.2,223.6 107.8,221.4 115.4,221.6 123.0,219.1 130.6,216.3 138.2,213.9 145.8,209.5 153.4,206.6 161.0,204.0 168.6,200.2 176.2,194.6 183.8,186.0 191.4,180.2 199.0,174.0 206.6,165.3 214.2,161.8 221.8,160.7 229.4,161.7 237.0,161.3 244.6,161.8 252.2,163.1 259.8,160.3 267.4,156.8 275.0,153.4 282.6,150.8 290.2,147.7 297.8,147.1 305.4,148.2 313.0,150.0 320.6,153.3 328.2,156.5 335.8,160.6 343.4,164.0 351.0,171.3 358.6,178.4 366.2,184.8 373.8,191.5 381.4,196.2 389.0,195.1 396.6,192.4 404.2,193.4 411.8,191.2 419.4,189.4 427.0,189.5 434.6,192.9 442.2,195.4 449.8,194.7 457.4,194.7 465.0,193.2 472.6,194.1 480.2,195.8 487.8,195.5 495.4,194.2 503.0,188.8 510.6,185.0 518.2,178.1 525.8,165.5 533.4,155.0 541.0,146.2 548.6,140.8 556.2,132.8 563.8,122.1 571.4,114.4 579.0,106.7 586.6,100.7 594.2,97.0 601.8,94.8 609.4,96.8 617.0,101.5 624.6,105.8 632.2,108.5 639.8,110.6 647.4,110.1 655.0,107.1 662.6,103.1 670.2,96.0 677.8,87.3 685.4,79.4 693.0,75.8 700.6,76.5 708.2,77.9 715.8,81.5 723.4,85.0 731.0,86.0 738.6,86.1 746.2,84.0 753.8,83.4 761.4,83.5 769.0,82.5 776.6,82.1 784.2,78.1 791.8,70.2 799.4,64.3 807.0,54.2 814.6,47.2 822.2,43.1 829.8,44.8 837.4,49.3 845.0,50.9 852.6,56.5 860.2,60.7 867.8,63.7 875.4,65.1 883.0,66.5 890.6,67.2 898.2,68.3 905.8,68.8 913.4,68.6 921.0,68.5 928.6,72.3 936.2,75.7 943.8,77.2"/>
<ellipse cx="783.5" cy="46.5" rx="7.3" ry="6.7" fill="url(#ball)" stroke="#3c6ca2" stroke-width="0.7"/>
<ellipse cx="783.5" cy="43" rx="5.6" ry="3.2" fill="url(#gloss)"/>
<rect x="783" y="43" width="1" height="7.5" fill="#ffffff" opacity="0.38"/>
</g>
<g clip-path="url(#cd)">
<g>
<rect x="-2" y="414" width="6" height="4.4" fill="#FF0000"/>
<rect x="6" y="414" width="6" height="6.6" fill="#FF0000"/>
<rect x="13" y="414" width="6" height="8.8" fill="#FF0000"/>
<rect x="21" y="414" width="6" height="7.7" fill="#FF0000"/>
<rect x="28" y="414" width="6" height="7.0" fill="#FF0000"/>
<rect x="36" y="414" width="6" height="5.9" fill="#FF0000"/>
<rect x="44" y="414" width="6" height="4.8" fill="#FF0000"/>
<rect x="51" y="414" width="6" height="3.7" fill="#FF0000"/>
<rect x="59" y="414" width="6" height="2.6" fill="#FF0000"/>
<rect x="66" y="414" width="6" height="1.7" fill="#FF0000"/>
<rect x="74" y="414" width="6" height="1.7" fill="#FF0000"/>
<rect x="82" y="414" width="6" height="1.7" fill="#FF0000"/>
<rect x="89" y="414" width="6" height="2.6" fill="#FF0000"/>
<rect x="97" y="414" width="6" height="3.7" fill="#FF0000"/>
<rect x="104" y="414" width="6" height="1.7" fill="#FF0000"/>
<rect x="112" y="414" width="6" height="1.7" fill="#FF0000"/>
<rect x="120" y="412.9" width="6" height="1.1" fill="#1ca242"/>
<rect x="127" y="412.9" width="6" height="1.1" fill="#1ca242"/>
<rect x="135" y="412.9" width="6" height="1.1" fill="#1ca242"/>
<rect x="142" y="412.3" width="6" height="1.7" fill="#1ca242"/>
<rect x="150" y="410.1" width="6" height="3.9" fill="#1ca242"/>
<rect x="158" y="411.2" width="6" height="2.8" fill="#1ca242"/>
<rect x="165" y="409.0" width="6" height="5.0" fill="#1ca242"/>
<rect x="173" y="406.1" width="6" height="7.9" fill="#1ca242"/>
<rect x="180" y="403.2" width="6" height="10.8" fill="#1ca242"/>
<rect x="188" y="402.1" width="6" height="11.9" fill="#1ca242"/>
<rect x="196" y="402.1" width="6" height="11.9" fill="#1ca242"/>
<rect x="203" y="401.2" width="6" height="12.8" fill="#1ca242"/>
<rect x="211" y="403.9" width="6" height="10.1" fill="#1ca242"/>
<rect x="218" y="407.2" width="6" height="6.8" fill="#1ca242"/>
<rect x="226" y="410.1" width="6" height="3.9" fill="#1ca242"/>
<rect x="234" y="412.1" width="6" height="1.9" fill="#1ca242"/>
<rect x="241" y="412.9" width="6" height="1.1" fill="#1ca242"/>
<rect x="249" y="414" width="6" height="1.6" fill="#FF0000"/>
<rect x="256" y="412.9" width="6" height="1.1" fill="#1ca242"/>
<rect x="264" y="412.9" width="6" height="1.1" fill="#1ca242"/>
<rect x="272" y="412.9" width="6" height="1.1" fill="#1ca242"/>
<rect x="279" y="412.9" width="6" height="1.1" fill="#1ca242"/>
<rect x="287" y="412.9" width="6" height="1.1" fill="#1ca242"/>
<rect x="294" y="414" width="6" height="2.8" fill="#FF0000"/>
<rect x="302" y="414" width="6" height="4.8" fill="#FF0000"/>
<rect x="310" y="414" width="6" height="5.9" fill="#FF0000"/>
<rect x="317" y="414" width="6" height="8.8" fill="#FF0000"/>
<rect x="325" y="414" width="6" height="10.6" fill="#FF0000"/>
<rect x="332" y="414" width="6" height="11.7" fill="#FF0000"/>
<rect x="340" y="414" width="6" height="13.9" fill="#FF0000"/>
<rect x="348" y="414" width="6" height="17.7" fill="#FF0000"/>
<rect x="355" y="414" width="6" height="19.9" fill="#FF0000"/>
<rect x="363" y="414" width="6" height="19.9" fill="#FF0000"/>
<rect x="370" y="414" width="6" height="19.9" fill="#FF0000"/>
<rect x="378" y="414" width="6" height="19.9" fill="#FF0000"/>
<rect x="386" y="414" width="6" height="12.8" fill="#FF0000"/>
<rect x="393" y="414" width="6" height="10.4" fill="#FF0000"/>
<rect x="401" y="414" width="6" height="11.0" fill="#FF0000"/>
<rect x="408" y="414" width="6" height="8.8" fill="#FF0000"/>
<rect x="416" y="414" width="6" height="7.7" fill="#FF0000"/>
<rect x="424" y="414" width="6" height="7.0" fill="#FF0000"/>
<rect x="431" y="414" width="6" height="5.9" fill="#FF0000"/>
<rect x="439" y="414" width="6" height="4.8" fill="#FF0000"/>
<rect x="446" y="414" width="6" height="4.4" fill="#FF0000"/>
<rect x="454" y="414" width="6" height="2.8" fill="#FF0000"/>
<rect x="462" y="414" width="6" height="1.6" fill="#FF0000"/>
<rect x="469" y="414" width="6" height="1.6" fill="#FF0000"/>
<rect x="477" y="414" width="6" height="2.1" fill="#FF0000"/>
<rect x="484" y="414" width="6" height="1.6" fill="#FF0000"/>
<rect x="492" y="412.9" width="6" height="1.1" fill="#1ca242"/>
<rect x="500" y="407.2" width="6" height="6.8" fill="#1ca242"/>
<rect x="507" y="403.9" width="6" height="10.1" fill="#1ca242"/>
<rect x="515" y="402.1" width="6" height="11.9" fill="#1ca242"/>
<rect x="522" y="395.0" width="6" height="19.0" fill="#1ca242"/>
<rect x="530" y="393.2" width="6" height="20.8" fill="#1ca242"/>
<rect x="538" y="394.1" width="6" height="19.9" fill="#1ca242"/>
<rect x="545" y="394.1" width="6" height="19.9" fill="#1ca242"/>
<rect x="553" y="393.2" width="6" height="20.8" fill="#1ca242"/>
<rect x="560" y="390.1" width="6" height="23.9" fill="#1ca242"/>
<rect x="568" y="387.2" width="6" height="26.8" fill="#1ca242"/>
<rect x="576" y="388.3" width="6" height="25.7" fill="#1ca242"/>
<rect x="583" y="393.2" width="6" height="20.8" fill="#1ca242"/>
<rect x="591" y="398.3" width="6" height="15.7" fill="#1ca242"/>
<rect x="598" y="403.2" width="6" height="10.8" fill="#1ca242"/>
<rect x="606" y="407.2" width="6" height="6.8" fill="#1ca242"/>
<rect x="614" y="411.2" width="6" height="2.8" fill="#1ca242"/>
<rect x="621" y="414" width="6" height="1.6" fill="#FF0000"/>
<rect x="629" y="414" width="6" height="3.9" fill="#FF0000"/>
<rect x="636" y="414" width="6" height="7.0" fill="#FF0000"/>
<rect x="644" y="414" width="6" height="5.9" fill="#FF0000"/>
<rect x="652" y="414" width="6" height="2.8" fill="#FF0000"/>
<rect x="659" y="414" width="6" height="1.6" fill="#FF0000"/>
<rect x="667" y="411.2" width="6" height="2.8" fill="#1ca242"/>
<rect x="674" y="410.1" width="6" height="3.9" fill="#1ca242"/>
<rect x="682" y="409.0" width="6" height="5.0" fill="#1ca242"/>
<rect x="690" y="411.2" width="6" height="2.8" fill="#1ca242"/>
<rect x="697" y="414" width="6" height="2.0" fill="#FF0000"/>
<rect x="705" y="414" width="6" height="4.9" fill="#FF0000"/>
<rect x="712" y="414" width="6" height="7.2" fill="#FF0000"/>
<rect x="720" y="414" width="6" height="7.8" fill="#FF0000"/>
<rect x="728" y="414" width="6" height="6.0" fill="#FF0000"/>
<rect x="735" y="414" width="6" height="6.0" fill="#FF0000"/>
<rect x="743" y="414" width="6" height="6.0" fill="#FF0000"/>
<rect x="750" y="414" width="6" height="7.8" fill="#FF0000"/>
<rect x="758" y="414" width="6" height="9.0" fill="#FF0000"/>
<rect x="766" y="414" width="6" height="7.8" fill="#FF0000"/>
<rect x="773" y="414" width="6" height="6.0" fill="#FF0000"/>
<rect x="781" y="412.9" width="6" height="1.1" fill="#1ca242"/>
<rect x="788" y="408.2" width="6" height="5.8" fill="#1ca242"/>
<rect x="796" y="409.3" width="6" height="4.7" fill="#1ca242"/>
<rect x="804" y="406.1" width="6" height="7.9" fill="#1ca242"/>
<rect x="811" y="406.1" width="6" height="7.9" fill="#1ca242"/>
<rect x="819" y="409.3" width="6" height="4.7" fill="#1ca242"/>
<rect x="826" y="414" width="6" height="1.6" fill="#FF0000"/>
<rect x="834" y="414" width="6" height="3.1" fill="#FF0000"/>
<rect x="842" y="414" width="6" height="6.0" fill="#FF0000"/>
<rect x="849" y="414" width="6" height="7.2" fill="#FF0000"/>
<rect x="857" y="414" width="6" height="9.0" fill="#FF0000"/>
<rect x="864" y="414" width="6" height="10.1" fill="#FF0000"/>
<rect x="872" y="414" width="6" height="11.0" fill="#FF0000"/>
<rect x="880" y="414" width="6" height="11.0" fill="#FF0000"/>
<rect x="887" y="414" width="6" height="11.0" fill="#FF0000"/>
<rect x="895" y="414" width="6" height="10.1" fill="#FF0000"/>
<rect x="902" y="414" width="6" height="9.0" fill="#FF0000"/>
<rect x="910" y="414" width="6" height="7.8" fill="#FF0000"/>
<rect x="918" y="414" width="6" height="7.8" fill="#FF0000"/>
<rect x="925" y="414" width="6" height="11.0" fill="#FF0000"/>
<rect x="933" y="414" width="6" height="11.9" fill="#FF0000"/>
<rect x="940" y="414" width="6" height="11.0" fill="#FF0000"/>
</g>
<polyline fill="none" stroke="#000" stroke-width="1" points="1.1,380.1 8.9,385.0 17.3,389.5 24.4,390.1 32.2,390.1 39.9,390.6 46.6,391.0 54.3,390.6 62.1,390.6 69.8,389.5 77.6,390.1 84.3,390.6 92.0,392.3 99.8,394.6 107.5,392.3 115.3,392.8 123.1,391.2 130.8,389.5 138.6,389.9 146.3,387.7 154.1,385.0 161.9,385.7 168.5,382.8 176.3,377.7 184.0,371.7 191.8,367.9 199.6,364.0 206.2,361.3 214.0,361.3 221.7,362.8 229.5,364.6 237.8,365.7 245.5,366.6 252.2,367.3 259.9,366.2 267.7,365.7 275.5,365.7 283.2,366.2 289.9,366.2 294.3,367.9 305.4,372.4 313.1,376.2 320.9,381.3 328.7,385.7 336.4,389.5 344.2,395.4 352.0,403.9 359.7,411.6 367.5,419.4 374.1,424.9 380.8,426.5 388.5,423.4 396.3,422.0 404.1,426.5 411.8,427.6 419.6,428.3 427.3,428.9 435.1,428.5 442.9,429.4 449.5,430.0 457.3,428.5 460.0,428.5 466.7,427.4 473.3,428.3 481.1,429.1 488.8,428.3 495.5,427.1 503.2,419.4 511.0,412.7 518.1,408.3 525.9,397.2 533.4,388.3 540.9,384.4 548.7,379.5 556.2,373.5 563.8,364.0 571.3,354.0 578.8,348.4 586.6,348.4 594.1,350.0 601.7,351.8 609.2,354.4 617.0,357.3 624.5,361.1 632.1,365.5 639.6,370.2 647.4,370.2 654.9,368.4 662.4,366.2 670.0,361.7 677.7,358.9 685.3,357.3 690.0,358.0 692.9,358.7 700.6,363.3 708.1,367.8 715.8,371.2 723.3,374.6 731.0,375.0 738.5,375.7 746.2,377.5 753.9,381.4 761.3,384.3 769.0,385.7 776.5,385.2 784.2,378.0 791.7,371.6 799.4,371.2 807.1,366.0 814.6,364.4 822.3,366.2 829.8,370.7 837.5,374.6 844.9,378.4 852.6,382.5 860.3,386.6 867.8,390.4 875.5,394.3 883.0,397.2 890.7,399.3 898.2,401.1 905.9,401.8 913.6,402.4 921.0,404.7 928.7,410.4 936.2,414.9 943.9,416.5"/>
<polyline fill="none" stroke="#FF0000" stroke-width="2.2" stroke-linejoin="round" points="1.1,375.7 8.9,378.4 17.3,380.6 24.4,382.4 32.2,383.9 39.9,385.0 46.6,386.1 54.3,386.8 62.1,387.5 69.8,388.1 77.6,388.6 84.3,389.0 92.0,389.9 99.8,390.8 107.5,391.2 115.3,391.5 123.1,391.2 130.8,390.8 138.6,390.6 146.3,389.9 154.1,389.0 161.9,388.3 168.5,386.8 176.3,384.6 184.0,381.7 191.8,378.4 199.6,375.0 206.2,372.4 214.0,370.2 221.7,368.6 229.5,367.7 237.8,367.3 245.5,367.1 252.2,367.1 259.9,366.8 267.7,366.4 275.5,366.2 283.2,366.2 289.9,366.2 296.5,366.8 305.4,368.4 313.1,370.2 320.9,372.8 328.7,375.7 336.4,378.8 344.2,382.8 352.0,387.7 359.7,393.2 367.5,398.8 374.1,403.4 380.8,407.9 388.5,410.5 396.3,413.0 404.1,416.1 411.8,418.7 419.6,420.7 427.3,422.0 435.1,423.4 442.9,424.5 449.5,425.4 457.3,426.0 460.0,426.5 466.7,427.1 473.3,427.6 481.1,427.8 488.8,427.8 495.5,427.6 503.2,426.0 511.0,423.4 518.1,419.8 525.9,415.0 533.4,410.1 540.9,405.0 548.7,399.9 556.2,393.9 563.8,387.2 571.3,380.6 578.8,373.9 586.6,368.4 594.1,364.6 601.7,362.2 609.2,360.6 617.0,360.0 624.5,360.2 632.1,361.3 639.6,363.1 647.4,364.6 654.9,365.5 662.4,365.5 670.0,364.6 677.7,363.5 685.3,362.2 690.0,361.7 692.9,361.4 700.6,361.7 708.1,362.8 715.8,364.8 723.3,366.7 731.0,368.2 738.5,369.6 746.2,371.2 753.9,373.4 761.3,375.7 769.0,378.0 776.5,379.1 784.2,378.7 791.7,377.3 799.4,375.9 807.1,373.9 814.6,372.1 822.3,371.0 829.8,371.0 837.5,371.6 844.9,373.0 852.6,375.0 860.3,377.5 867.8,380.5 875.5,383.4 883.0,386.1 890.7,388.8 898.2,391.3 905.9,393.4 913.6,395.4 921.0,397.7 928.7,400.6 936.2,403.3 943.9,405.2"/>
</g>
</svg>
<!-- header -->
<div class="t" style="left:8px;top:12px;font-size:10.67px;color:#ff0000;word-spacing:1.6px">MA6: 1464.83</div>
<div class="t" style="left:90px;top:12px;font-size:10.67px;color:#0000ff;word-spacing:1.6px">MA13: 1476.92</div>
<div class="t" style="left:178px;top:12px;font-size:10.67px;color:#008000;word-spacing:1.6px">MA26: 1494.62</div>
<!-- left price label -->
<div class="t" style="left:0;top:67px;width:57px;height:18px;background:#fff"></div>
<div class="t" style="left:3.4px;top:69px;font-size:12.5px;color:#000">1491.185</div>
<!-- right axis labels -->
<div class="t ax" style="top:37px">1560</div>
<div class="t ax" style="top:72px">1460</div>
<div class="t ax" style="top:108px">1360</div>
<div class="t ax" style="top:144px">1260</div>
<div class="t ax" style="top:180px">1160</div>
<div class="t ax" style="top:215px">1060</div>
<div class="t ax" style="top:260px">150000</div>
<div class="t ax" style="top:277px">100000</div>
<div class="t ax" style="top:294px">50000</div>
<div class="t ax" style="top:351px">60</div>
<div class="t ax" style="top:370px">40</div>
<div class="t ax" style="top:390px">20</div>
<div class="t ax" style="top:409px">0</div>
<!-- price boxes -->
<div class="t" style="left:1102px;top:17px;width:53px;height:16px;background:#fdb84e"></div>
<div class="t" style="left:1106px;top:19px;font-size:12.3px;color:#000">1629.16</div>
<div class="t" style="left:1102px;top:78px;width:90px;height:15px;background:rgba(120,208,255,0.85)"></div>
<div class="t" style="right:3.5px;top:79px;font-size:12.4px;color:#000">1457</div>
<!-- fib labels -->
<div class="t" style="left:938px;top:47.5px;font-size:10.67px;color:#ff4a0a;white-space:pre;-webkit-text-stroke:0.3px #ff4a0a">1548.4P'  38.2%</div>
<div class="t" style="left:938px;top:56px;font-size:10.67px;color:#000;white-space:pre;-webkit-text-stroke:0.25px #000">1523.5P'  50%</div>
<div class="t" style="left:938px;top:65.7px;font-size:10.67px;color:#ff4a0a;white-space:pre;-webkit-text-stroke:0.3px #ff4a0a">1498.6P'  61.8%</div>
<!-- date box -->
<div class="t" style="left:903px;top:256px;width:72px;height:16px;background:#ff9900"></div>
<div class="t" style="left:906.3px;top:257.5px;font-size:12.7px;color:#000">25/12/2019</div>
<div class="t" style="left:1059px;top:260px;font-size:11px;color:#1a10ff">Volume</div>
<!-- overlay texts -->
<div class="t" style="left:2.5px;top:242px;width:2px;height:1px;background:#2a6a2a"></div>
<div class="t" style="left:8.2px;top:236px;font-size:13.33px;color:#000">01081942</div>
<div class="t" style="left:73.5px;top:236px;font-size:13.33px;color:#000">:</div>
<div class="t" style="left:81.8px;top:236px;font-size:13px;color:#000;transform-origin:0 0;transform:scaleX(0.9)">שיכון ובינוי</div>
<!-- x labels -->
<div class="t" style="left:55.4px;top:324px;font-size:11.5px;color:#000;letter-spacing:0.4px">יול</div>
<div class="t" style="left:525px;top:324px;font-size:11.2px;color:#000">אוק</div>
<div class="t" style="left:975.4px;top:324px;font-size:11px;color:#000" dir="ltr"><span style="display:inline-block">ינו</span><span style="display:inline-block">(2020)</span></div>
<!-- macd header -->
<div class="t" style="left:8px;top:351px;font-size:11px;color:#6d7b8d">MACD 26/12: -1.54</div>
<div class="t" style="left:115px;top:351px;font-size:11px;color:#f03030">9 EMA: 9.61</div>
<div class="t" style="left:189px;top:351px;font-size:11px;color:#e8305a;letter-spacing:0.27px">Histogram:-11.15</div>
<!-- bottom scrollbar bits -->
<div class="t" style="left:0;top:440px;width:22px;height:2px;background:#bfdcff"></div>
<div class="t" style="left:22px;top:440px;width:1.5px;height:2px;background:#5a7aa8"></div>
<div class="t" style="left:25px;top:440px;width:1px;height:2px;background:#707070"></div>
<div class="t" style="left:26px;top:440px;width:13px;height:2px;background:linear-gradient(90deg,#f4f4f4,#b8b8b8)"></div>
<div class="t" style="left:39px;top:440px;width:1px;height:2px;background:#707070"></div>
<div class="t" style="left:41px;top:440px;width:2px;height:2px;background:#1a56d6"></div>
</body></html>
